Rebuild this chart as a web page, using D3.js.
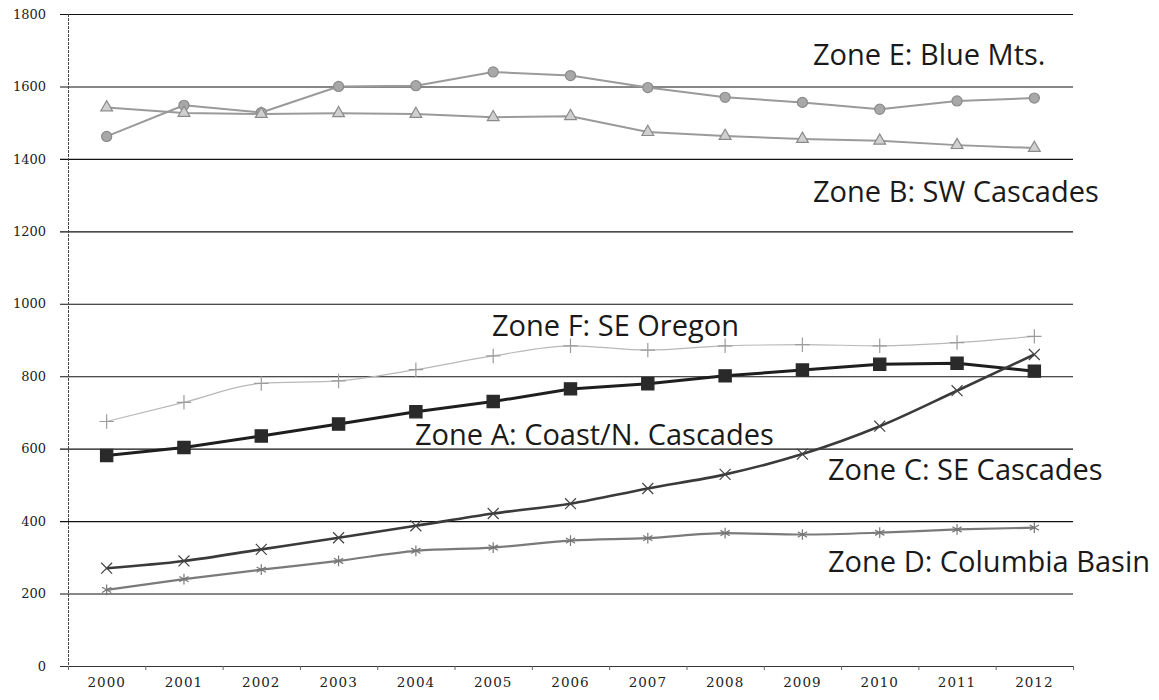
<!DOCTYPE html>
<html>
<head>
<meta charset="utf-8">
<script src="https://cdn.jsdelivr.net/npm/d3@7"></script>
<style>
 body { margin: 0; background: #fff; }
</style>
</head>
<body>
<div id="chart"></div>
<script>
// data
var years = ["2000", "2001", "2002", "2003", "2004", "2005", "2006", "2007", "2008", "2009", "2010", "2011", "2012"];
var yTicks = [0, 200, 400, 600, 800, 1000, 1200, 1400, 1600, 1800];
var zoneE = [1462, 1548, 1528, 1600, 1602, 1640, 1630, 1597, 1570, 1556, 1537, 1560, 1568];
var zoneB = [1542, 1527, 1524, 1526, 1524, 1515, 1518, 1474, 1463, 1455, 1450, 1438, 1430];
var zoneF = [675, 728, 780, 787, 818, 856, 884, 872, 884, 887, 884, 893, 910];
var zoneA = [581, 603, 635, 668, 702, 730, 765, 779, 801, 817, 833, 836, 814];
var zoneC = [270, 290, 322, 354, 387, 421, 448, 490, 529, 585, 662, 760, 860];
var zoneD = [210, 240, 266, 290, 318, 327, 346, 353, 367, 363, 368, 377, 382];
var zoneNames = ["Zone E: Blue Mts.", "Zone B: SW Cascades", "Zone F: SE Oregon",
 "Zone A: Coast/N. Cascades", "Zone C: SE Cascades", "Zone D: Columbia Basin"];

var w = 1159, h = 700;
// plot box (note: "top" is reserved on window, so use pLeft etc.)
var pLeft = 68, pRight = 1073, pTop = 14, pBottom = 666;

var mysvg = d3.select("#chart").append("svg").attr("width", w).attr("height", h),
 x = d3.scaleBand().domain(years).range([pLeft, pRight]),
 y = d3.scaleLinear().domain([0, 1800]).range([pBottom, pTop]);

var sym = function (t) { return t || d3.symbolCross; };

// series styling, same order as the zone arrays
var series = [
 { values: zoneE, stroke: "#9a9a9a", width: 2, curve: d3.curveLinear, shape: d3.symbolCircle, size: 80, fill: "#a8a8a8", mstroke: "#8a8a8a" },
 { values: zoneB, stroke: "#9a9a9a", width: 2, curve: d3.curveLinear, shape: d3.symbolTriangle, size: 60, fill: "#d0d0d0", mstroke: "#8a8a8a" },
 { values: zoneF, stroke: "#b8b8b8", width: 1.2, curve: d3.curveMonotoneX, shape: sym(d3.symbolPlus), size: 70, fill: "none", mstroke: "#9c9c9c" },
 { values: zoneA, stroke: "#1e1e1e", width: 3, curve: d3.curveLinear, shape: d3.symbolSquare, size: 150, fill: "#2a2a2a", mstroke: "#2a2a2a" },
 { values: zoneC, stroke: "#3a3a3a", width: 2.6, curve: d3.curveMonotoneX, shape: sym(d3.symbolTimes), size: 80, fill: "none", mstroke: "#444" },
 { values: zoneD, stroke: "#7a7a7a", width: 2.2, curve: d3.curveMonotoneX, shape: sym(d3.symbolAsterisk), size: 80, fill: "none", mstroke: "#777" }
];

// horizontal gridlines with little left tick stubs
mysvg.append("g").selectAll("line").data(yTicks).enter().append("line")
 .attr("x1", pLeft - 8).attr("x2", pRight)
 .attr("y1", function (d) { return y(d) + 0.5; }).attr("y2", function (d) { return y(d) + 0.5; })
 .attr("stroke", function (d) { return d === 0 ? "#333" : "#111"; })
 .attr("stroke-width", 1.1);

// y axis labels
mysvg.append("g").selectAll("text").data(yTicks).enter().append("text")
 .attr("x", 46).attr("y", function (d) { return y(d); }).attr("dy", "0.36em")
 .attr("text-anchor", "end")
 .attr("font-family", "DejaVu Serif").attr("font-size", 13).attr("fill", "#222")
 .text(function (d) { return d; });

// y axis line (dotted looking in scan)
mysvg.append("line").attr("x1", pLeft + 0.5).attr("x2", pLeft + 0.5).attr("y1", pTop).attr("y2", pBottom + 4)
 .attr("stroke", "#444").attr("stroke-width", 1).attr("stroke-dasharray", "3,1");

// x axis: ticks between categories, labels at band centre
var bounds = years.map(function (d) { return x(d); }).concat([pRight]);
mysvg.append("g").selectAll("line").data(bounds).enter().append("line")
 .attr("x1", function (d) { return d + 0.5; }).attr("x2", function (d) { return d + 0.5; })
 .attr("y1", pBottom).attr("y2", pBottom + 4)
 .attr("stroke", "#666").attr("stroke-width", 1);
mysvg.append("g").selectAll("text").data(years).enter().append("text")
 .attr("x", function (d) { return x(d) + x.bandwidth() / 2; }).attr("y", 687)
 .attr("text-anchor", "middle")
 .attr("font-family", "DejaVu Serif").attr("font-size", 13.5).attr("letter-spacing", 1).attr("fill", "#222")
 .text(function (d) { return d; });

var cx = function (d, i) { return x(years[i]) + x.bandwidth() / 2; };

series.forEach(function (s) {
 var line = d3.line().x(cx).y(function (d) { return y(d); }).curve(s.curve);
 mysvg.append("path").datum(s.values)
  .attr("d", line).attr("fill", "none")
  .attr("stroke", s.stroke).attr("stroke-width", s.width).attr("stroke-linejoin", "round");
 mysvg.append("g").selectAll("path").data(s.values).enter().append("path")
  .attr("transform", function (d, i) { return "translate(" + cx(d, i) + "," + y(d) + ")"; })
  .attr("d", d3.symbol().type(s.shape).size(s.size))
  .attr("fill", s.fill).attr("stroke", s.mstroke).attr("stroke-width", 1.2);
});

// zone labels placed by hand like the original annotations
var labelPos = [[813, 65], [813, 202], [492, 336], [415, 445], [828, 480], [828, 572]];
mysvg.append("g").selectAll("text").data(zoneNames).enter().append("text")
 .attr("x", function (d, i) { return labelPos[i][0]; })
 .attr("y", function (d, i) { return labelPos[i][1]; })
 .attr("font-family", "Open Sans").attr("font-size", 29).attr("fill", "#1a1a1a")
 .text(function (d) { return d; });
</script>
</body>
</html>
